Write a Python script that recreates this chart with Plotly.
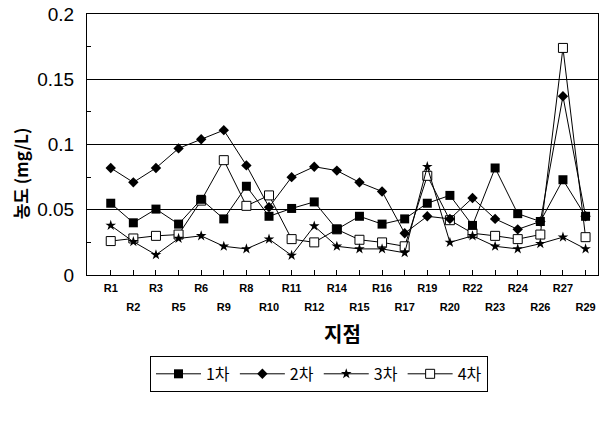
import plotly.graph_objects as go

categories = ["R1", "R2", "R3", "R5", "R6", "R9", "R8", "R10", "R11", "R12", "R14",
              "R15", "R16", "R17", "R19", "R20", "R22", "R23", "R24", "R26", "R27", "R29"]

s1 = [0.055, 0.040, 0.0505, 0.039, 0.058, 0.043, 0.068, 0.045, 0.051, 0.056, 0.035,
      0.045, 0.039, 0.043, 0.055, 0.061, 0.038, 0.082, 0.047, 0.041, 0.073, 0.045]
s2 = [0.082, 0.071, 0.082, 0.097, 0.104, 0.111, 0.084, 0.052, 0.075, 0.083, 0.080,
      0.071, 0.064, 0.032, 0.045, 0.043, 0.059, 0.043, 0.035, 0.041, 0.137, 0.045]
s3 = [0.038, 0.0255, 0.0155, 0.028, 0.030, 0.022, 0.020, 0.0275, 0.015, 0.0375, 0.022,
      0.020, 0.020, 0.017, 0.083, 0.025, 0.030, 0.022, 0.020, 0.024, 0.029, 0.020]
s4 = [0.026, 0.028, 0.030, 0.031, 0.057, 0.088, 0.053, 0.061, 0.0275, 0.025, 0.035,
      0.027, 0.025, 0.022, 0.076, 0.042, 0.032, 0.030, 0.0275, 0.031, 0.174, 0.029]

series_names = ["1차", "2차", "3차", "4차"]

KFONT = "Noto Sans CJK KR, Liberation Sans, Arial, sans-serif"
NFONT = "Liberation Sans, Arial, sans-serif"

fig = go.Figure()

styles = {
    "4차": dict(symbol="square", size=9, color="white", line=dict(color="black", width=1)),
    "3차": dict(symbol="star", size=8, color="black", line=dict(color="black", width=0)),
    "2차": dict(symbol="diamond", size=8, color="black", line=dict(color="black", width=0)),
    "1차": dict(symbol="square", size=9, color="black", line=dict(color="black", width=0)),
}
data = {"1차": s1, "2차": s2, "3차": s3, "4차": s4}

for name in ["4차", "3차", "2차", "1차"]:
    fig.add_trace(go.Scatter(
        x=categories, y=data[name], name=name, mode="lines+markers",
        line=dict(color="black", width=1), marker=styles[name],
        legendrank=series_names.index(name) + 1,
    ))

# helper trace for second row of tick labels
fig.add_trace(go.Scatter(x=categories, y=s1, xaxis="x2", mode="markers",
                         marker=dict(opacity=0), showlegend=False, hoverinfo="skip"))

fig.update_layout(
    width=610, height=423,
    margin=dict(l=87, r=12, t=14, b=148, autoexpand=False),
    paper_bgcolor="white", plot_bgcolor="white",
    showlegend=True,
    xaxis=dict(type="category", categoryorder="array", categoryarray=categories,
               range=[-1.05, 21.55], tickmode="array", tickvals=categories[0::2],
               ticks="inside", ticklen=5, tickcolor="black", showline=True,
               linecolor="black", mirror=True, showgrid=False, zeroline=False,
               automargin=False,
               tickfont=dict(family=NFONT, size=11, color="black", weight="bold"),
               ticklabelstandoff=3),
    xaxis2=dict(type="category", categoryorder="array", categoryarray=categories,
                overlaying="x", anchor="y", side="bottom", automargin=False,
                range=[-1.05, 21.55], tickmode="array", tickvals=categories[1::2],
                ticks="inside", ticklen=5, tickcolor="black", showline=False,
                showgrid=False, zeroline=False,
                tickfont=dict(family=NFONT, size=11, color="black", weight="bold"),
                ticklabelstandoff=24),
    yaxis=dict(range=[0, 0.2], dtick=0.05, tick0=0, showgrid=True, gridcolor="black",
               gridwidth=1, showline=True, linecolor="black", mirror=True,
               zeroline=False, ticks="", ticklabelstandoff=8, automargin=False,
               ticklabeloverflow="allow",
               tickfont=dict(family=NFONT, size=19, color="black"),
               minor=dict(dtick=0.025, tick0=0, ticks="inside", ticklen=4,
                          tickcolor="black", showgrid=False)),
    legend=dict(orientation="h", x=0.454, xanchor="center", y=-0.31, yanchor="top",
                bordercolor="black", borderwidth=1, bgcolor="white",
                font=dict(family=KFONT, size=16, color="black"),
                itemwidth=45),
    annotations=[
        dict(text="<b>농도 (mg/L)</b>", textangle=-90, xref="paper", yref="paper",
             x=-0.131, y=0.39, showarrow=False, xanchor="center", yanchor="middle",
             font=dict(family=KFONT, size=17, color="black")),
        dict(text="<b>지점</b>", xref="paper", yref="paper", x=0.5, y=-0.225,
             showarrow=False, xanchor="center", yanchor="middle",
             font=dict(family=KFONT, size=20, color="black")),
    ],
)

# remove the browser's default 8px body margin so the figure fills the window exactly
fig.write_html("out.html", config={"displayModeBar": False},
               post_script="document.body.style.margin='0px';")
